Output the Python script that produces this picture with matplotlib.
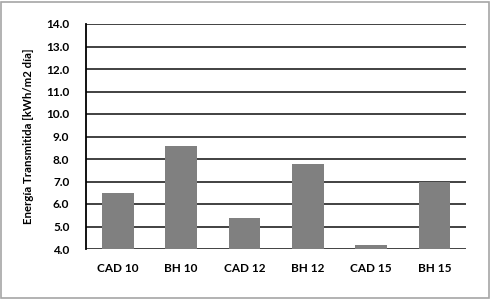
import matplotlib.pyplot as plt
from matplotlib.patches import Rectangle
import numpy as np

# data
categories = ["CAD 10", "BH 10", "CAD 12", "BH 12", "CAD 15", "BH 15"]
energia = [6.5, 8.6, 5.4, 7.8, 4.2, 7.0]
y_ticks = [4.0, 5.0, 6.0, 7.0, 8.0, 9.0, 10.0, 11.0, 12.0, 13.0, 14.0]

plt.rcParams['font.family'] = ['Lato', 'DejaVu Sans']

fig = plt.figure(figsize=(4.94, 3.02), dpi=100)
ax = fig.add_axes([86 / 494, 1 - 249 / 302, 380 / 494, 225 / 302])

x = np.arange(len(categories))
ax.bar(x, np.array(energia) - 4.0, bottom=4.0, width=0.5, color="#808080", zorder=3)

ax.set_xlim(-0.5, len(categories) - 0.5)
ax.set_ylim(4.0, 14.0)
ax.set_yticks(y_ticks)
ax.set_yticklabels(["%.1f" % t for t in y_ticks], fontsize=8.5, fontweight="bold")
ax.set_xticks(x)
ax.set_xticklabels(categories, fontsize=8.5, fontweight="bold")
ax.tick_params(axis="both", length=0, colors="black")
ax.tick_params(axis="y", pad=12)
ax.tick_params(axis="x", pad=10)

ax.yaxis.grid(True, color="#333333", linewidth=1.3, zorder=1)
for side in ["top", "right", "bottom"]:
    ax.spines[side].set_visible(False)
ax.spines["left"].set_linewidth(1.3)
ax.spines["left"].set_color("black")

ax.set_ylabel("Energía Transmitida [kWh/m2 día]", fontsize=8.2, fontweight="bold", labelpad=9)

# outer frame around the chart
fig.patches.append(Rectangle((1 / 494, 4 / 302), 488 / 494, 296 / 302, transform=fig.transFigure,
                             fill=False, edgecolor="#a6a6a6", linewidth=1.2))

fig.savefig("out.png", dpi=100)
